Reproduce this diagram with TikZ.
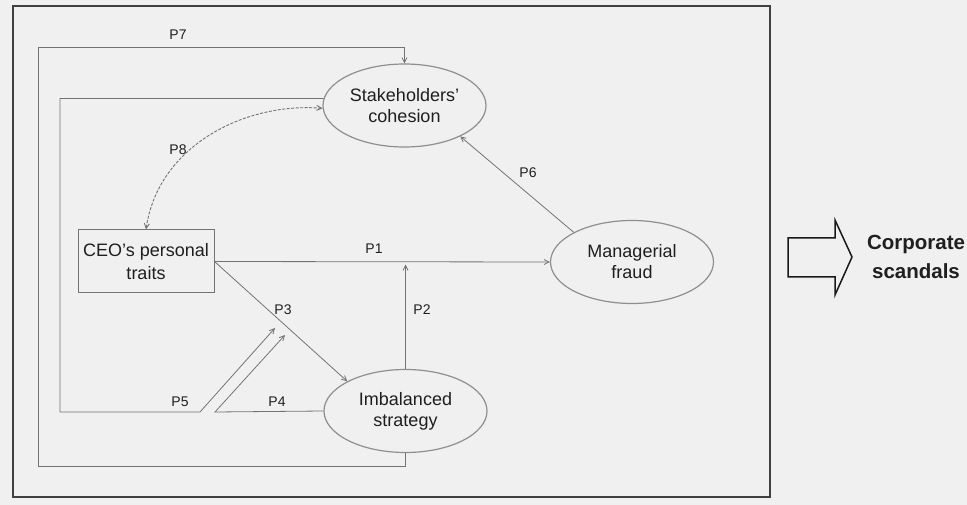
\documentclass[tikz,border=0pt]{standalone}
\usepackage{fontspec}
\setmainfont{Liberation Sans}
\usetikzlibrary{shapes.geometric,arrows.meta}
\definecolor{bgc}{gray}{0.94}
\definecolor{linec}{gray}{0.45}
\definecolor{txtc}{gray}{0.12}
\tikzset{
  conn/.style={draw=linec, line width=0.8pt},
  arr/.style={-{Straight Barb[length=5pt,width=5pt]}},
  oval/.style={ellipse, draw=linec!80, line width=1.2pt, minimum width=163pt, minimum height=83pt, inner sep=0pt, align=center, text=txtc, font=\fontsize{18}{21}\selectfont},
  boxn/.style={rectangle, draw=linec, line width=1pt, minimum width=136pt, minimum height=63pt, inner sep=0pt, align=center, text=txtc, font=\fontsize{18}{23}\selectfont},
  plab/.style={text=txtc, font=\fontsize{14}{16}\selectfont, inner sep=0pt},
  frame/.style={draw=black!75, line width=1.4pt},
  bigarrow/.style={draw=black!90, line width=1.5pt, line join=miter},
  dashconn/.style={draw=linec, line width=0.9pt, dash pattern=on 3pt off 1.5pt},
}
\begin{document}
\begin{tikzpicture}[x=1pt,y=-1pt]
\useasboundingbox[fill=bgc] (0,0) rectangle (967,505);
\draw[frame] (13,6) rectangle (770,497);

% nodes
\node[oval] (stake) at (404.5,105.5) {Stakeholders’\\cohesion};
\node[oval] (fraud) at (632,262) {Managerial\\fraud};
\node[oval] (imb) at (405.5,411) {Imbalanced\\strategy};
\node[boxn] (box) at (146,261.5) {CEO’s personal\\traits};

% helper coordinates
\coordinate (c7a) at (38,466);
\coordinate (c7b) at (38,47);
\coordinate (c5a) at (60,412);
\coordinate (c5b) at (200,412);
\coordinate (c5e) at (275,328);
\coordinate (c4a) at (215,412);
\coordinate (c4e) at (285,335);

% P1
\draw[conn,arr] (box.east) -- (fraud.west);
% P2
\draw[conn,arr] (imb.north) -- ([yshift=-3pt]imb.north |- box.east);
% P3
\draw[conn,arr] (box.east) -- (imb.153);
% P4
\draw[conn,arr] (imb.west) -- (c4a) -- (c4e);
% P5
\draw[conn,arr] (stake.175) -| (c5a) -- (c5b) -- (c5e);
% P6
\draw[conn,arr] (fraud.153) -- (stake.331);
% P7
\draw[conn,arr] (imb.south) |- (c7a) -- (c7b) -| (stake.north);
% P8
\draw[dashconn,{Straight Barb[length=5pt,width=5pt]}-{Straight Barb[length=5pt,width=5pt]}] (stake.182) .. controls (245,102) and (158,146) .. (box.north);

% labels
\node[plab] (l1) at (374,249) {P1};
\node[plab] (l2) at (422,310) {P2};
\node[plab] (l3) at (283,310) {P3};
\node[plab] (l4) at (277,402) {P4};
\node[plab] (l5) at (180,402) {P5};
\node[plab] (l6) at (528,173) {P6};
\node[plab] (l7) at (178,35) {P7};
\node[plab] (l8) at (178,150) {P8};

% block arrow
\draw[bigarrow] (788,238) -- (835,238) -- (835,220) -- (852,257) -- (835,295) -- (835,277) -- (788,277) -- cycle;
\node[text=txtc, font=\fontsize{20.5}{29}\selectfont\bfseries, align=center, inner sep=0pt] (cs) at (916,257) {Corporate\\scandals};
\end{tikzpicture}
\end{document}
